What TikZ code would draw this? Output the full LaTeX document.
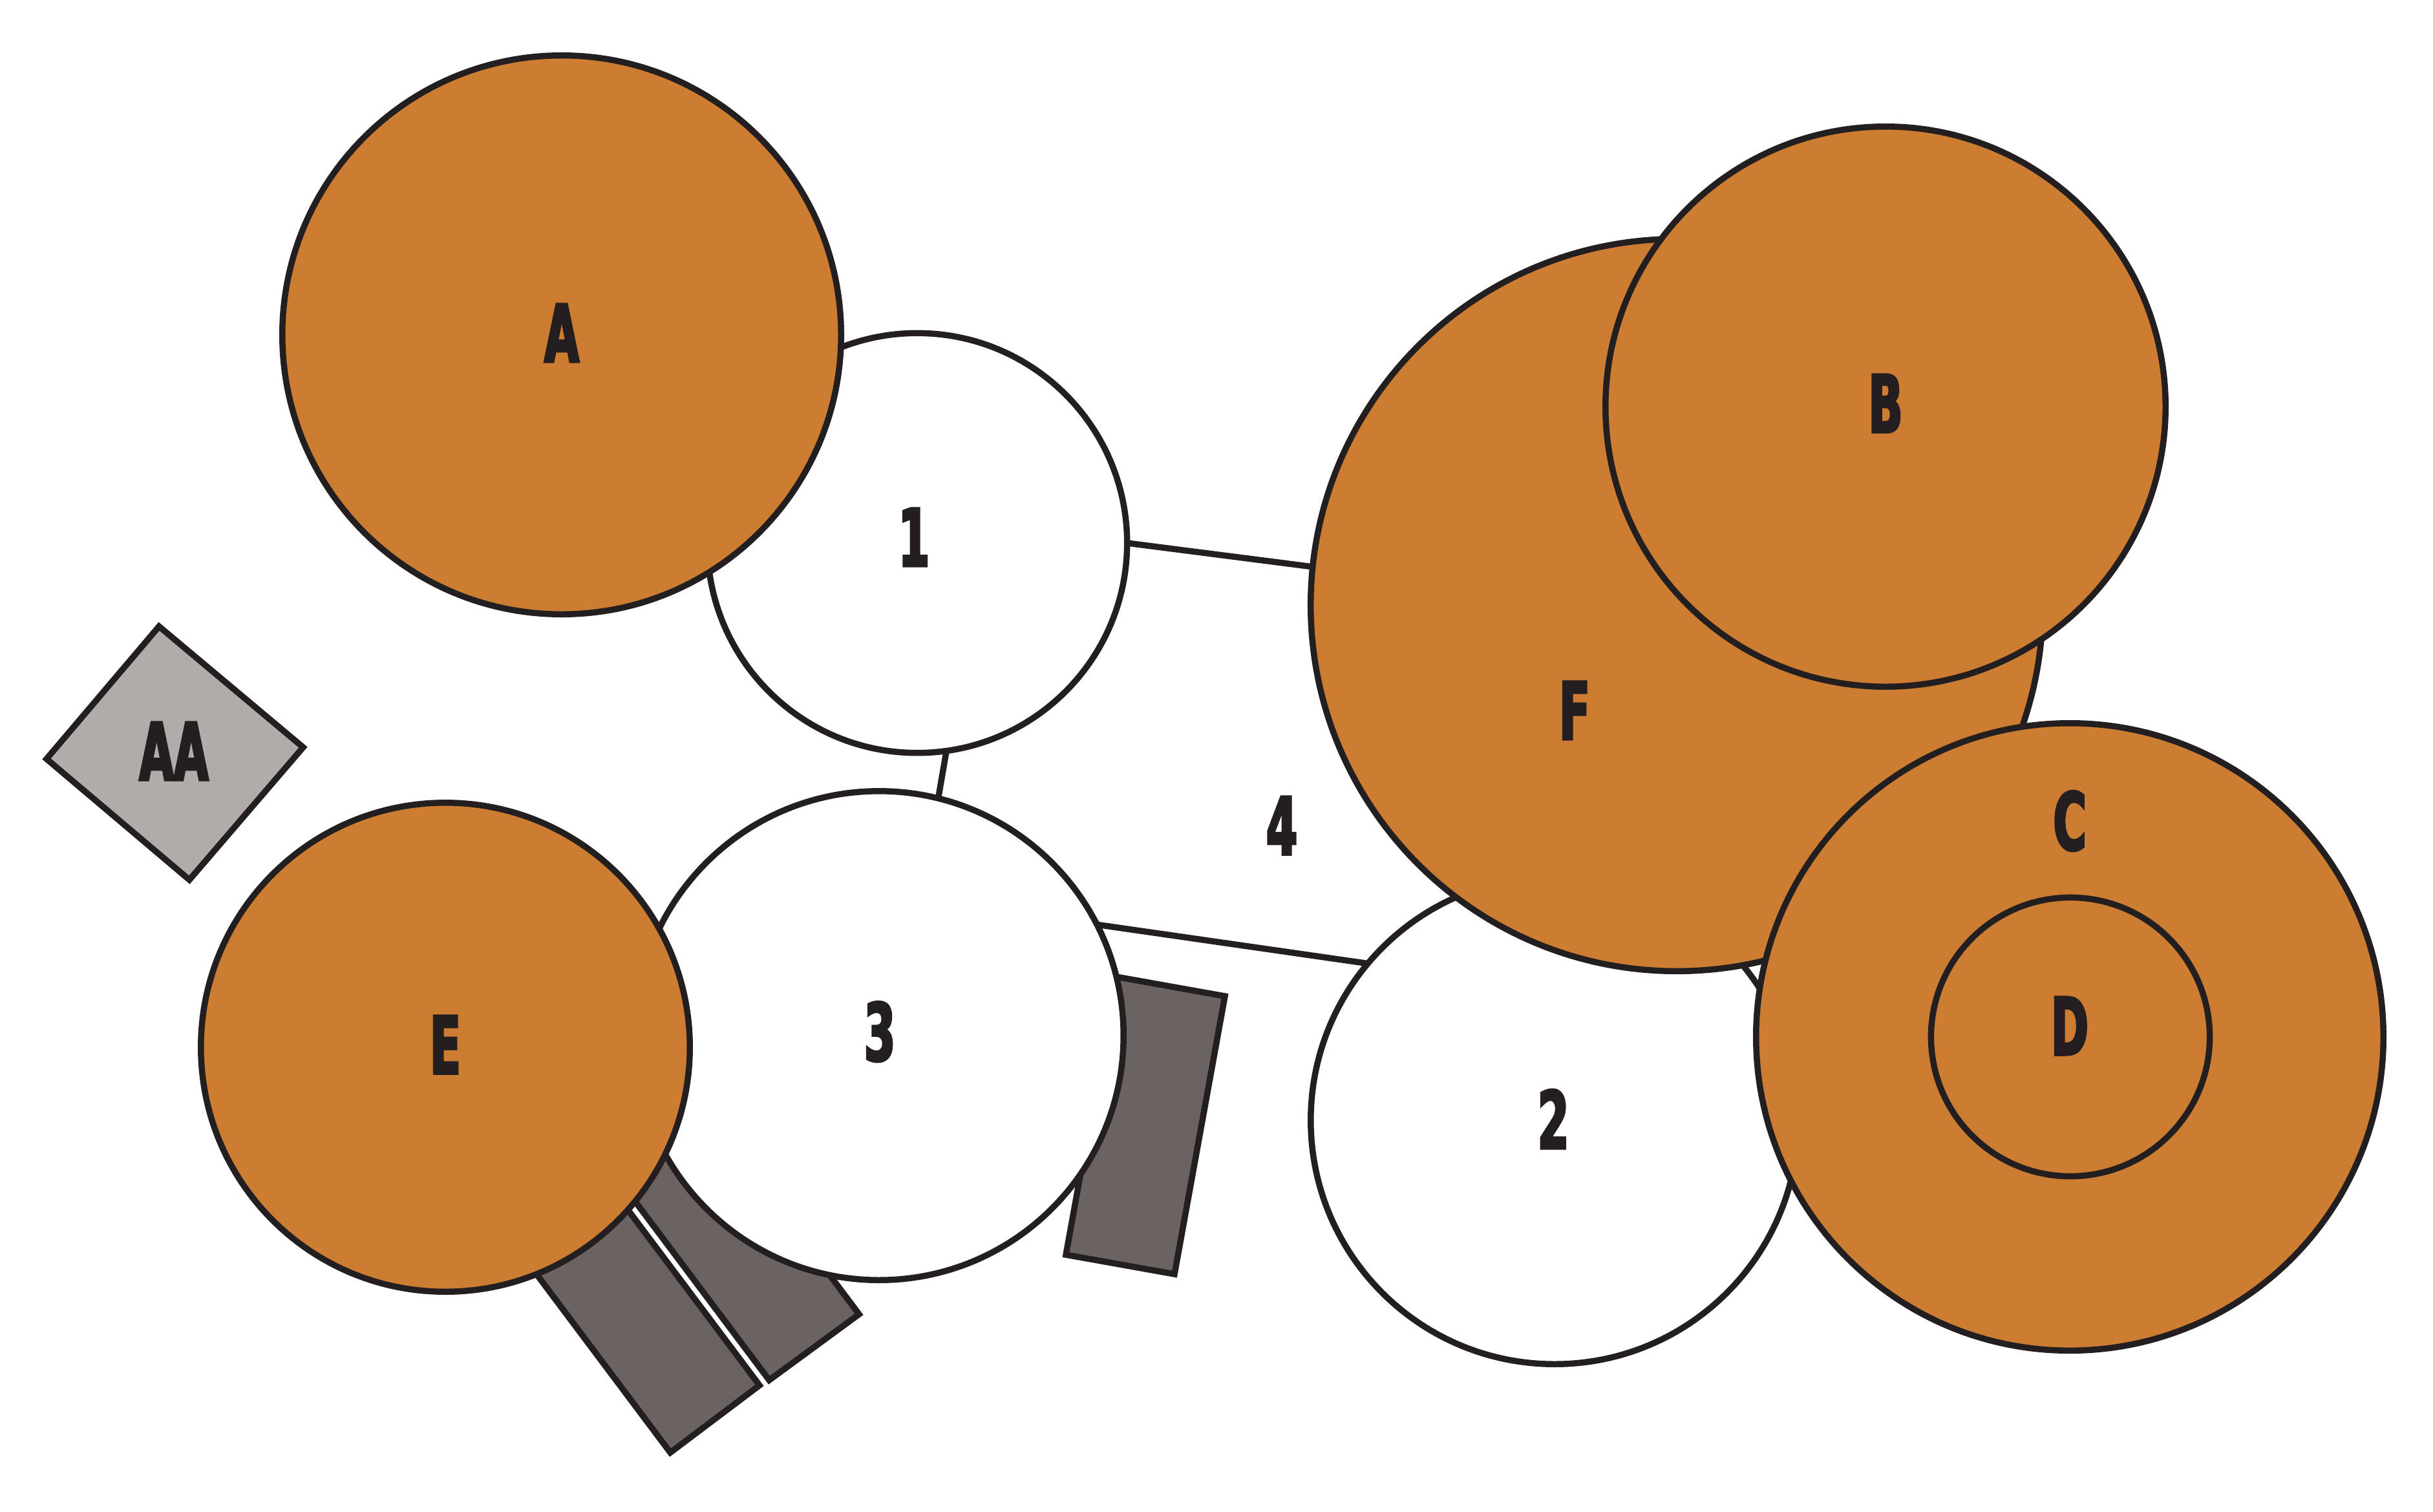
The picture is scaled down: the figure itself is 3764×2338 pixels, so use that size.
\documentclass[tikz,border=0pt]{standalone}
\usepackage{fontspec}
\newfontfamily\labfont[FakeStretch=0.56,FakeBold=3]{DejaVu Sans}
\definecolor{org}{HTML}{CC7D31}
\definecolor{ink}{HTML}{231F20}
\definecolor{barcol}{HTML}{6B6361}
\definecolor{diacol}{HTML}{B0ACA9}
\tikzset{
  disc/.style={circle, draw=ink, line width=2.7pt, inner sep=0pt, outer sep=0pt},
  orangedisc/.style={disc, fill=org},
  whitedisc/.style={disc, fill=white},
  barshape/.style={draw=ink, fill=barcol, line width=2.7pt, line join=miter},
  diashape/.style={draw=ink, fill=diacol, line width=2.7pt, line join=miter},
  conn/.style={draw=ink, line width=2.7pt},
  lab/.style={font=\labfont\bfseries\fontsize{35}{35}\selectfont, text=ink, inner sep=0pt, outer sep=0pt},
}
\begin{document}
\begin{tikzpicture}[x=0.01cm,y=-0.01cm]
\fill[white] (0,0) rectangle (3764,2338);
\useasboundingbox (0,0) rectangle (3764,2338);
% bars
\draw[barshape] (1727,1511) -- (1895,1541) -- (1817,1971) -- (1649,1941) -- cycle;
\draw[barshape] (1190,2135) -- (1329,2033) -- (1041,1649) -- (902,1751) -- cycle;
\draw[barshape] (1037,2247) -- (1175,2143) -- (887,1759) -- (749,1863) -- cycle;
% circles
\node[whitedisc, minimum size=7.54cm] (c2) at (2405,1733) {};
\node[orangedisc, minimum size=11.32cm] (cF) at (2594,936) {};
\node[orangedisc, minimum size=8.66cm] (cB) at (2917,629) {};
\node[orangedisc, minimum size=9.70cm] (cC) at (3202,1604) {};
\node[orangedisc, minimum size=4.31cm] (cD) at (3203,1604) {};
\node[whitedisc, minimum size=6.49cm] (c1) at (1419,840) {};
\node[orangedisc, minimum size=8.64cm] (cA) at (869,518) {};
\node[whitedisc, minimum size=7.56cm] (c3) at (1360,1602) {};
\node[orangedisc, minimum size=7.56cm] (cE) at (689,1620) {};
% diamond
\draw[diashape] (246,969) -- (469,1156) -- (293,1361) -- (72,1174) -- cycle;
% connectors
\draw[conn] (c1.east) -- (cF.174.5);
\draw[conn] (c1.-82.3) -- (c3.76.7);
\draw[conn] (c3.27.4) -- (c2.140);
% labels
\node[lab] (lA) at (869,515) {A};
\node[lab] (l1) at (1414,831) {1};
\node[lab] (lB) at (2917,624) {B};
\node[lab] (lF) at (2436,1099) {F};
\node[lab] (l4) at (1983,1277) {4};
\node[lab] (lC) at (3202,1270) {C};
\node[lab] (lD) at (3202,1587) {D};
\node[lab] (l2) at (2403,1731) {2};
\node[lab] (l3) at (1361,1596) {3};
\node[lab] (lE) at (689,1616) {E};
\node[lab] (lAA) at (269,1162) {AA};
\end{tikzpicture}
\end{document}
